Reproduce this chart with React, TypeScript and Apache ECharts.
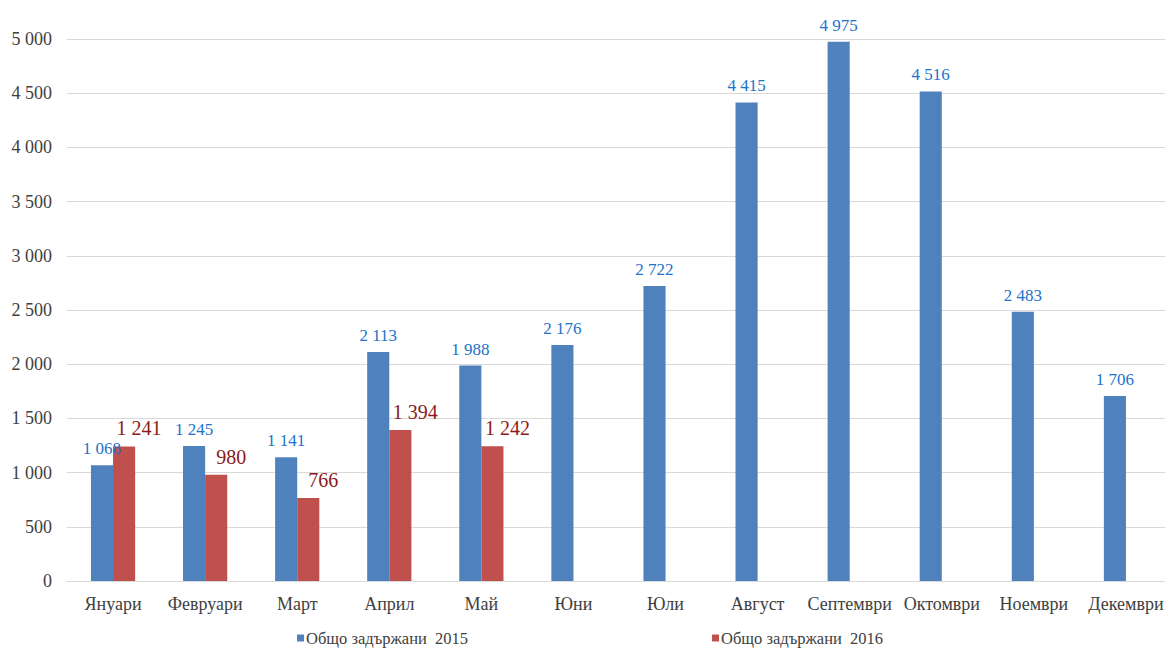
import React, { useEffect, useRef } from "react";
import * as echarts from "echarts";

const categories = ["Януари", "Февруари", "Март", "Април", "Май", "Юни", "Юли", "Август", "Септември", "Октомври", "Ноември", "Декември"];
const series2015 = [1068, 1245, 1141, 2113, 1988, 2176, 2722, 4415, 4975, 4516, 2483, 1706];
const series2016 = [1241, 980, 766, 1394, 1242, null, null, null, null, null, null, null];
const seriesNames = ["Общо задържани  2015", "Общо задържани  2016"];

const fmt = (v: number) => String(v).replace(/\B(?=(\d{3})+(?!\d))/g, " ");
const FONT = "Liberation Serif";

export default function App() {
  const ref = useRef<HTMLDivElement>(null);
  useEffect(() => {
    if (!ref.current) return;
    const chart = echarts.init(ref.current, null, { renderer: "svg" });
    chart.setOption({
      animation: false,
      textStyle: { fontFamily: FONT },
      grid: { left: 67, top: 39, bottom: 69, width: 1105, containLabel: false },
      legend: {
        left: 297,
        top: 628,
        padding: 0,
        itemWidth: 7,
        itemHeight: 7,
        itemGap: 244,
        icon: "rect",
        textStyle: { fontFamily: FONT, fontSize: 16.5, color: "#404040", padding: [0, 0, 0, -3], lineHeight: 20 },
        data: seriesNames,
      },
      xAxis: {
        type: "category",
        data: categories,
        axisLine: { lineStyle: { color: "#d9d9d9" } },
        axisTick: { show: false },
        axisLabel: { fontFamily: FONT, fontSize: 18, color: "#404040", margin: 14, interval: 0 },
      },
      yAxis: {
        type: "value",
        min: 0,
        max: 5000,
        interval: 500,
        axisLine: { show: false },
        axisTick: { show: false },
        splitLine: { lineStyle: { color: "#d9d9d9" } },
        axisLabel: { fontFamily: FONT, fontSize: 18, color: "#404040", margin: 15, formatter: (v: number) => fmt(v) },
      },
      series: [
        {
          name: seriesNames[0],
          type: "bar",
          data: series2015,
          barGap: "0%",
          barCategoryGap: "52%",
          itemStyle: { color: "#4f81bd" },
          label: {
            show: true,
            position: "top",
            distance: 8,
            fontFamily: FONT,
            fontSize: 17,
            color: "#2272c9",
            formatter: (p: any) => fmt(p.value),
          },
        },
        {
          name: seriesNames[1],
          type: "bar",
          data: series2016,
          itemStyle: { color: "#c0504d" },
          label: {
            show: true,
            position: "top",
            distance: 8,
            offset: [15, 0],
            fontFamily: FONT,
            fontSize: 20,
            color: "#8b1a1a",
            formatter: (p: any) => (p.value == null ? "" : fmt(p.value)),
          },
        },
      ],
    });
    return () => chart.dispose();
  }, []);
  return (
    <div style={{ position: "fixed", left: 0, top: 0, width: 1165, height: 650, overflow: "hidden", background: "#fff" }}>
      <div ref={ref} style={{ width: 1180, height: 650 }} />
    </div>
  );
}
